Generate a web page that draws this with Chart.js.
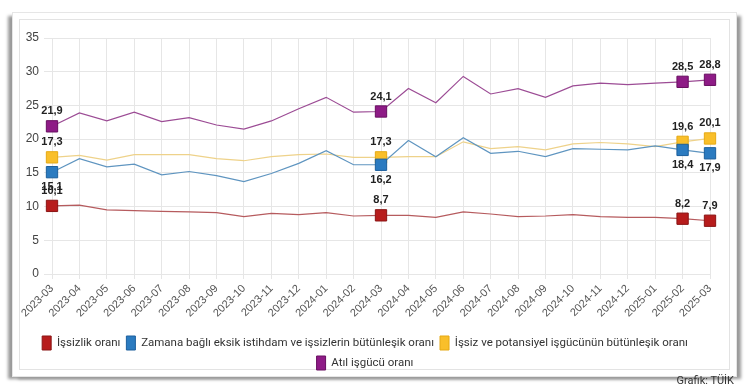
<!DOCTYPE html>
<html>
<head>
<meta charset="utf-8">
<script src="https://cdn.jsdelivr.net/npm/chart.js@4"></script>
<style>
  body { margin: 0; background: #fff; width: 750px; height: 390px; position: relative; overflow: hidden; }
  #card { position: absolute; left: 12px; top: 12px; width: 723px; height: 363px; border: 1px solid #e6e6e6; background: #fff;
          box-shadow: -5px 3px 3px -1px #9a9a9a, 5px 3px 3px -1px #9a9a9a; }
  #inner { position: absolute; left: 6px; top: 6px; width: 709px; height: 349px; border: 1px solid #e3e3e3; }
  #chart { position: absolute; left: 0; top: 0; }
  #source { position: absolute; right: 16px; top: 374px; font: 11px Roboto, sans-serif; color: #333; }
</style>
</head>
<body>
<div id="card"><div id="inner"><canvas id="chart" width="709" height="360"></canvas></div></div>
<div id="source">Grafik: TÜİK</div>
<script>
// ay etiketleri
const months = ['2023-03','2023-04','2023-05','2023-06','2023-07','2023-08','2023-09','2023-10','2023-11','2023-12',
  '2024-01','2024-02','2024-03','2024-04','2024-05','2024-06','2024-07','2024-08','2024-09','2024-10','2024-11','2024-12',
  '2025-01','2025-02','2025-03'];

const issizlik    = [10.1, 10.2, 9.5, 9.4, 9.3, 9.2, 9.1, 8.5, 9.0, 8.8, 9.1, 8.6, 8.7, 8.7, 8.4, 9.2, 8.9, 8.5, 8.6, 8.8, 8.5, 8.4, 8.4, 8.2, 7.9];
const zamanaBagli = [15.1, 17.1, 15.9, 16.3, 14.7, 15.2, 14.6, 13.7, 14.9, 16.4, 18.3, 16.2, 16.2, 19.8, 17.4, 20.2, 17.9, 18.2, 17.4, 18.6, 18.5, 18.4, 19.0, 18.4, 17.9];
const potansiyel  = [17.3, 17.6, 16.9, 17.7, 17.7, 17.7, 17.1, 16.8, 17.4, 17.7, 17.8, 17.3, 17.3, 17.4, 17.4, 19.6, 18.6, 18.9, 18.4, 19.3, 19.5, 19.3, 18.9, 19.6, 20.1];
const atil        = [21.9, 23.9, 22.7, 24.0, 22.6, 23.2, 22.1, 21.5, 22.7, 24.5, 26.2, 24.0, 24.1, 27.5, 25.4, 29.3, 26.7, 27.5, 26.2, 27.9, 28.3, 28.1, 28.3, 28.5, 28.8];

const yTicks = [0, 5, 10, 15, 20, 25, 30, 35];
const labelIdx = [0, 12, 23, 24];

const radii = months.map((m, i) => labelIdx.includes(i) ? 8 : 0);

function series(label, data, line, fill, edge, pos) {
  return {
    label: label, data: data,
    borderColor: line, backgroundColor: fill, borderWidth: 1.2,
    pointStyle: 'rect', pointRadius: radii, pointHoverRadius: radii,
    pointBackgroundColor: fill, pointBorderColor: edge, pointBorderWidth: 1,
    edgeColor: edge, labelPos: pos, tension: 0
  };
}

// nokta etiketleri
const valueLabels = {
  id: 'valueLabels',
  afterDatasetsDraw(chart) {
    const ctx = chart.ctx;
    ctx.save();
    ctx.font = 'bold 11px "Liberation Sans", Arial, sans-serif';
    ctx.fillStyle = '#222';
    ctx.textAlign = 'center';
    ctx.textBaseline = 'middle';
    chart.data.datasets.forEach((ds, d) => {
      const meta = chart.getDatasetMeta(d);
      labelIdx.forEach(i => {
        const pt = meta.data[i];
        const dy = ds.labelPos === 'below' ? 15 : -15;
        ctx.fillText(String(ds.data[i]).replace('.', ','), pt.x, pt.y + dy);
      });
    });
    ctx.restore();
  }
};

new Chart(document.getElementById('chart'), {
  type: 'line',
  data: {
    labels: months,
    datasets: [
      series('İşsizlik oranı', issizlik, '#b65b5e', '#b71c1c', '#8a1414', 'above'),
      series('Zamana bağlı eksik istihdam ve işsizlerin bütünleşik oranı', zamanaBagli, '#5f95c0', '#2b7bc0', '#1c5f9c', 'below'),
      series('İşsiz ve potansiyel işgücünün bütünleşik oranı', potansiyel, '#eed28a', '#f9bf2a', '#e5a914', 'above'),
      series('Atıl işgücü oranı', atil, '#9c4c95', '#8e1b86', '#680f61', 'above')
    ]
  },
  options: {
    responsive: false,
    animation: false,
    layout: { padding: { top: 18, right: 19, left: 0, bottom: 0 } },
    scales: {
      x: {
        grid: { color: '#e6e6e6', tickLength: 5 },
        border: { color: '#e6e6e6' },
        ticks: { maxRotation: 45, minRotation: 45, autoSkip: false, color: '#555', font: { size: 11, family: '"Liberation Sans", Arial, sans-serif' }, padding: 3 },
        afterFit(scale) { scale.height = 56; }
      },
      y: {
        min: 0, max: 35,
        afterBuildTicks(scale) { scale.ticks = yTicks.map(v => ({ value: v })); },
        grid: { color: '#e6e6e6' },
        border: { display: false },
        ticks: { color: '#444', font: { size: 12, family: '"Liberation Sans", Arial, sans-serif' }, padding: 5 },
        afterFit(scale) { scale.width = 32; }
      }
    },
    plugins: {
      tooltip: { enabled: false },
      legend: {
        position: 'bottom',
        labels: {
          boxWidth: 9, boxHeight: 14, padding: 6, color: '#333',
          font: { size: 11.5, family: 'Roboto, sans-serif' },
          generateLabels(chart) {
            return chart.data.datasets.map((ds, i) => ({
              text: ds.label, fillStyle: ds.backgroundColor, strokeStyle: ds.edgeColor,
              lineWidth: 1, datasetIndex: i, hidden: false, fontColor: '#333'
            }));
          }
        }
      }
    }
  },
  plugins: [valueLabels]
});
</script>
</body>
</html>
